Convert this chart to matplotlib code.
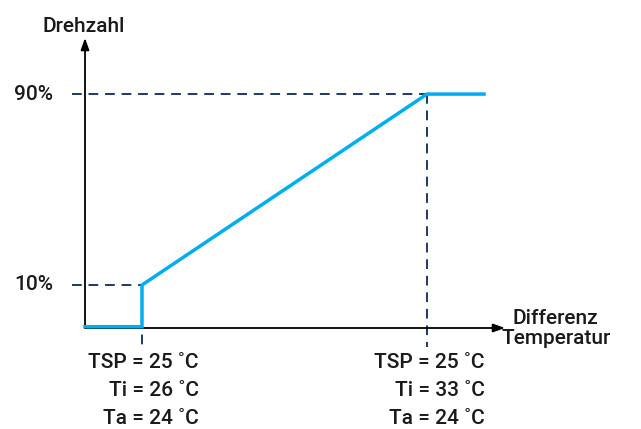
import matplotlib
matplotlib.use("Agg")
import matplotlib.pyplot as plt

# ---- data (chart units; the diagram is schematic, not to scale) ----
x_points = [0, 1, 1, 6, 7]          # temperature-difference positions
y_points = [0.03, 0.03, 1, 5.44, 5.44]  # speed positions
speed_levels = [1, 5.44]
speed_labels = ["10%", "90%"]
x_marks = [1, 6]
left_labels = ["TSP = 25 ˚C", "Ti = 26 ˚C", "Ta = 24 ˚C"]
right_labels = ["TSP = 25 ˚C", "Ti = 33 ˚C", "Ta = 24 ˚C"]

W, H = 641, 429
fig = plt.figure(figsize=(W / 100, H / 100), dpi=100)
fig.patch.set_facecolor("white")
ax = fig.add_axes([85 / W, (H - 328) / H, 420 / W, 290 / H])
xmax, ymax = 420 / 57, 290 / 43
ax.set_xlim(0, xmax)
ax.set_ylim(0, ymax)
ax.axis("off")

font = ["Roboto", "DejaVu Sans"]
fs = 15
navy = "#1f3864"
blue = "#00aeef"

# axes arrows
ax.annotate("", xy=(xmax, 0), xytext=(0, 0),
            arrowprops=dict(arrowstyle="-|>,head_length=0.7,head_width=0.25",
                            color="black", lw=1.3, shrinkA=0, shrinkB=0),
            annotation_clip=False)
ax.annotate("", xy=(0, ymax), xytext=(0, 0),
            arrowprops=dict(arrowstyle="-|>,head_length=0.7,head_width=0.25",
                            color="black", lw=1.3, shrinkA=0, shrinkB=0),
            annotation_clip=False)

# dashed guide lines
dash = (0, (5, 3.5))
for lvl, xm in zip(speed_levels, x_marks):
    ax.plot([-0.23, xm], [lvl, lvl], color=navy, lw=1.4, linestyle=dash,
            clip_on=False, zorder=2)
    ax.plot([xm, xm], [lvl, -0.45], color=navy, lw=1.4, linestyle=dash,
            clip_on=False, zorder=2)

# speed curve
ax.plot(x_points, y_points, color=blue, lw=2.5, clip_on=False, zorder=3,
        solid_joinstyle="miter")

def ftxt(px, py, s, **kw):
    fig.text(px / W, 1 - py / H, s, fontsize=fs, family=font,
             color="#1a1a1a", va="center", weight="medium", **kw)

ftxt(42, 26, "Drehzahl", ha="left")
for lvl, lab in zip(speed_levels, speed_labels):
    py = 328 - lvl * 43
    ftxt(14, py, lab, ha="left")

ftxt(513, 318, "Differenz", ha="left")
ftxt(502, 338, "Temperatur", ha="left")

for i, s in enumerate(left_labels):
    ftxt(199, 362 + 28 * i, s, ha="right")
for i, s in enumerate(right_labels):
    ftxt(485, 362 + 28 * i, s, ha="right")

fig.savefig("out.png", dpi=100)
